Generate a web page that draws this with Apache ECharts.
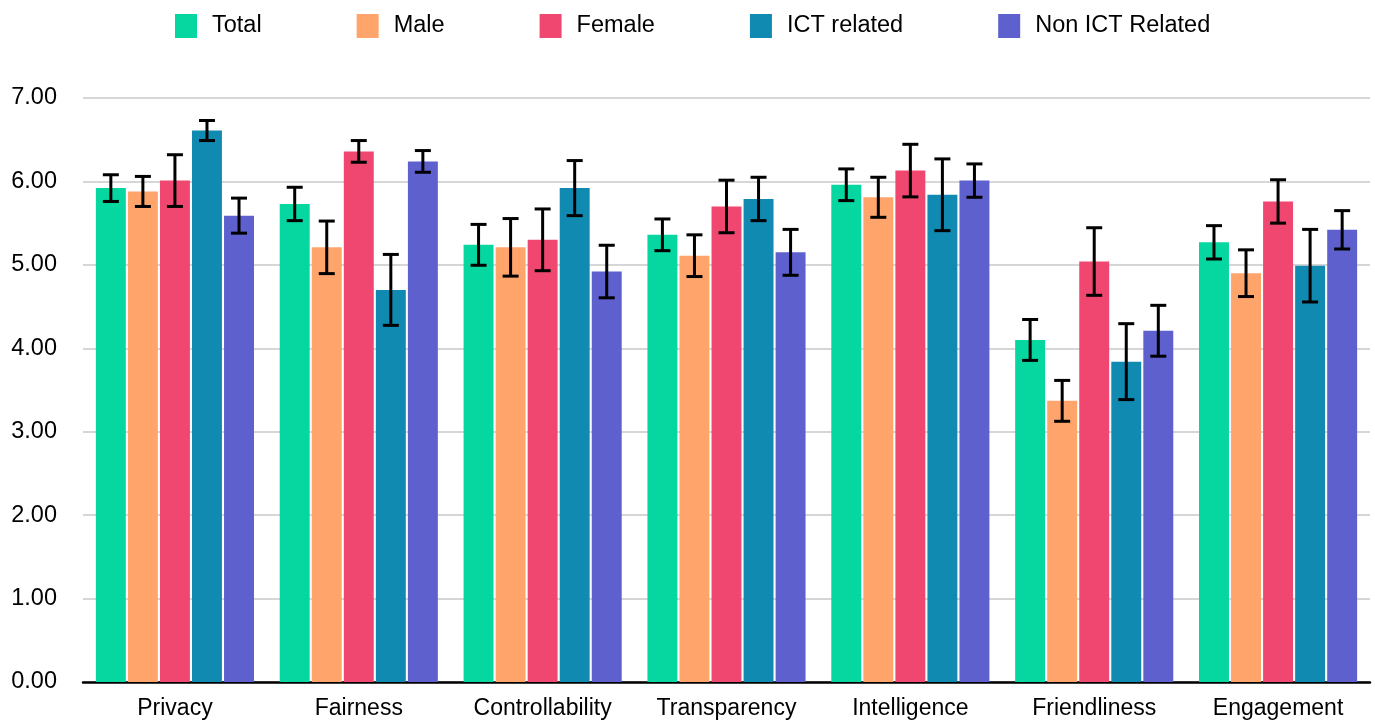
<!DOCTYPE html>
<html>
<head>
<meta charset="utf-8">
<script src="https://cdn.jsdelivr.net/npm/echarts@6/dist/echarts.min.js"></script>
<style>
  html, body { margin: 0; padding: 0; background: #fff; }
  #chart { width: 1375px; height: 722px; }
</style>
</head>
<body>
<div id="chart"></div>
<script>
// 类别与系列
const categories = ['Privacy', 'Fairness', 'Controllability', 'Transparency', 'Intelligence', 'Friendliness', 'Engagement'];
const seriesNames = ['Total', 'Male', 'Female', 'ICT related', 'Non ICT Related'];
const seriesColors = ['#06d6a0', '#ffa56c', '#ef476f', '#118ab2', '#5e60ce'];

// 均值
const totalValues  = [5.92, 5.73, 5.24, 5.36, 5.96, 4.10, 5.27];
const maleValues   = [5.88, 5.21, 5.21, 5.11, 5.81, 3.37, 4.90];
const femaleValues = [6.01, 6.36, 5.30, 5.70, 6.13, 5.04, 5.76];
const ictValues    = [6.61, 4.70, 5.92, 5.79, 5.84, 3.84, 4.99];
const nonIctValues = [5.59, 6.24, 4.92, 5.15, 6.01, 4.21, 5.42];

// 误差棒 (半宽)
const totalErr  = [0.16, 0.20, 0.245, 0.19, 0.19, 0.245, 0.20];
const maleErr   = [0.18, 0.315, 0.345, 0.25, 0.24, 0.245, 0.28];
const femaleErr = [0.31, 0.13, 0.37, 0.315, 0.315, 0.405, 0.26];
const ictErr    = [0.12, 0.425, 0.33, 0.26, 0.43, 0.455, 0.435];
const nonIctErr = [0.21, 0.13, 0.315, 0.275, 0.20, 0.305, 0.23];

const yTicks = [0, 1, 2, 3, 4, 5, 6, 7];

const allValues = [totalValues, maleValues, femaleValues, ictValues, nonIctValues];
const allErr = [totalErr, maleErr, femaleErr, ictErr, nonIctErr];

const FONT = "'Liberation Sans', Arial, Helvetica, sans-serif";
const BAR_GAP = 0.07;
const CAT_GAP = 0.14;

/**
 * 误差棒绘制 (按柱子偏移)
 */
function makeErrorRender(idx, n) {
    return function (params, api) {
        const cat = api.value(0);
        const val = api.value(1);
        const err = api.value(2);
        const band = api.size([1, 0])[0];
        const usable = band * (1 - CAT_GAP);
        const barW = usable / (n + (n - 1) * BAR_GAP);
        const offset = -usable / 2 + idx * barW * (1 + BAR_GAP) + barW / 2;
        const hi = api.coord([cat, val + err]);
        const lo = api.coord([cat, val - err]);
        const x = hi[0] + offset;
        const half = 8;
        const style = { stroke: '#000', lineWidth: 3 };
        return {
            type: 'group',
            children: [
                { type: 'line', shape: { x1: x, y1: hi[1], x2: x, y2: lo[1] }, style: style },
                { type: 'line', shape: { x1: x - half, y1: hi[1], x2: x + half, y2: hi[1] }, style: style },
                { type: 'line', shape: { x1: x - half, y1: lo[1], x2: x + half, y2: lo[1] }, style: style }
            ]
        };
    };
}

const series = [];
seriesNames.forEach((name, i) => {
    series.push({
        name: name,
        type: 'bar',
        data: allValues[i],
        barGap: (BAR_GAP * 100) + '%',
        barCategoryGap: (CAT_GAP * 100) + '%',
        itemStyle: { color: seriesColors[i] }
    });
});
seriesNames.forEach((name, i) => {
    series.push({
        name: name + ' err',
        type: 'custom',
        renderItem: makeErrorRender(i, seriesNames.length),
        data: allValues[i].map((v, k) => [k, v, allErr[i][k]]),
        z: 10,
        silent: true
    });
});

const chart = echarts.init(document.getElementById('chart'));
chart.setOption({
    animation: false,
    textStyle: { fontFamily: FONT },
    legend: {
        data: seriesNames,
        top: 9,
        left: 170,
        itemWidth: 22,
        itemHeight: 24,
        itemGap: 95,
        icon: 'rect',
        textStyle: { fontSize: 23.5, color: '#000', fontFamily: FONT, padding: [0, 0, 0, 10] }
    },
    grid: { left: 83, right: 5, top: 98, bottom: 40, containLabel: false },
    xAxis: {
        type: 'category',
        data: categories,
        axisTick: { show: false },
        axisLine: { lineStyle: { color: '#000', width: 2.5 } },
        axisLabel: { fontSize: 23, color: '#000', margin: 15, interval: 0, hideOverlap: false, fontFamily: FONT }
    },
    yAxis: {
        type: 'value',
        min: yTicks[0],
        max: yTicks[yTicks.length - 1],
        interval: 1,
        axisLine: { show: false },
        axisTick: { show: false },
        splitLine: { lineStyle: { color: '#c8c8c8', width: 1.5 } },
        axisLabel: {
            fontSize: 23.5, color: '#000', margin: 26, fontFamily: FONT,
            formatter: v => v.toFixed(2)
        }
    },
    series: series
});
</script>
</body>
</html>
